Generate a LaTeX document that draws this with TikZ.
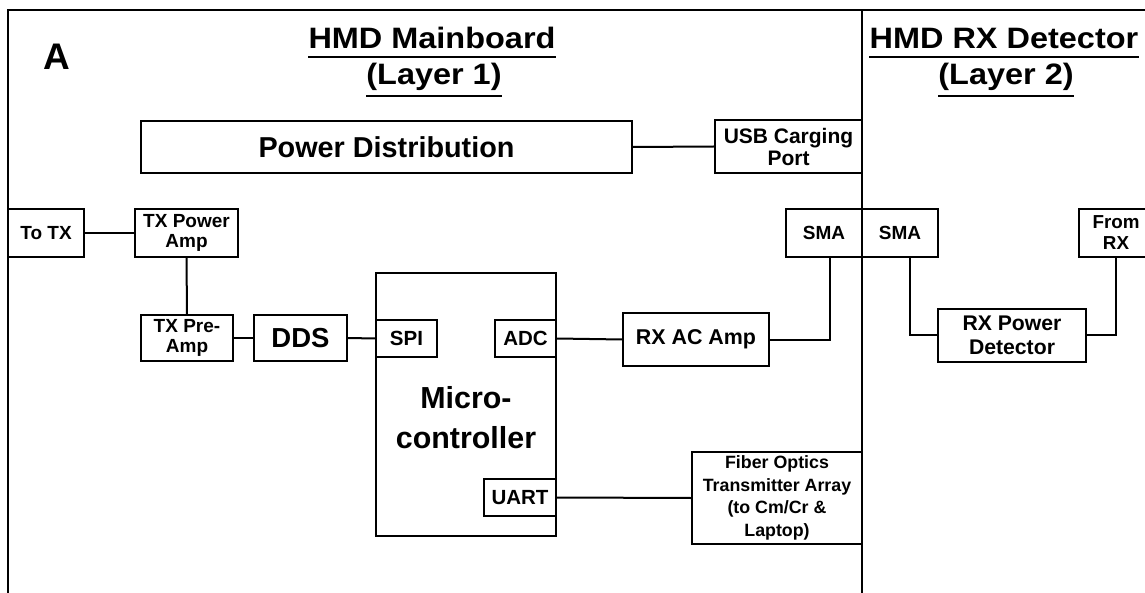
\documentclass[tikz,border=0pt]{standalone}
\usepackage{fontspec}
\setmainfont{Liberation Sans}
\begin{document}
\begin{tikzpicture}[x=1pt,y=-1pt,
  box/.style={draw,line width=1.8pt,inner sep=0pt,align=center},
  wire/.style={line width=2pt},
  frame/.style={line width=2.8pt},
  ttl/.style={inner sep=0pt,anchor=base,xscale=1.1,font=\fontsize{29.5}{30}\selectfont\bfseries},
  f19/.style={font=\fontsize{19}{20}\selectfont\bfseries},
  f20/.style={font=\fontsize{20.5}{22}\selectfont\bfseries},
  f18/.style={font=\fontsize{17.8}{22.5}\selectfont\bfseries}]
\useasboundingbox[fill=white] (0,0) rectangle (1145,593);
% frame
\coordinate (ftl) at (8,10);
\coordinate (ftr) at (1145,10);
\coordinate (fbl) at (8,593);
\coordinate (dtop) at (862,10);
\coordinate (dbot) at (862,593);
\draw[frame] (fbl) -- (ftl) -- (ftr);
\draw[line width=2.4pt] (dtop) -- (dbot);
% labels
\node[inner sep=0pt,font=\fontsize{37}{37}\selectfont\bfseries] (lblA) at (56.5,56.5) {A};
\node[ttl] (t1) at (432,49) {HMD Mainboard};
\node[ttl] (t2) at (434,85) {(Layer 1)};
\node[ttl] (t3) at (1004,49) {HMD RX Detector};
\node[ttl] (t4) at (1006,85) {(Layer 2)};
\foreach \t/\d in {t1/8,t2/11,t3/8,t4/11}
  \draw[line width=2pt] ([yshift=-\d pt]\t.base west) -- ([yshift=-\d pt]\t.base east);
% boxes
\node[box,font=\fontsize{28.8}{30}\selectfont\bfseries,minimum width=491pt,minimum height=52pt] (pd) at (386.5,147) {Power Distribution};
\node[box,font=\fontsize{21}{22}\selectfont\bfseries,minimum width=147pt,minimum height=53pt] (usb) at (788.5,146.5) {USB Carging\\Port};
\node[box,f19,minimum width=76pt,minimum height=48pt] (totx) at (46,233) {To TX};
\node[box,f19,minimum width=103pt,minimum height=48pt] (txpa) at (186.5,233) {TX Power\\Amp};
\node[box,f19,minimum width=92pt,minimum height=46pt] (txpre) at (187,338) {TX Pre-\\Amp};
\node[box,font=\fontsize{27.5}{28}\selectfont\bfseries,minimum width=93pt,minimum height=46pt] (dds) at (300.5,338) {DDS};
\node[box,minimum width=180pt,minimum height=263pt] (mcu) at (466,404.5) {};
\node[inner sep=0pt,align=center,font=\fontsize{30.4}{40}\selectfont\bfseries] (mcutxt) at (466,418) {Micro-\\controller};
\node[box,f20,minimum width=61pt,minimum height=37pt] (spi) at (406.5,338.5) {SPI};
\node[box,f20,minimum width=61pt,minimum height=37pt] (adc) at (525.5,338.5) {ADC};
\node[box,f20,minimum width=72pt,minimum height=37pt] (uart) at (520,497.5) {UART};
\node[box,font=\fontsize{21.4}{22}\selectfont\bfseries,minimum width=146pt,minimum height=53pt] (rxac) at (696,339.5) {RX AC Amp};
\node[box,f19,minimum width=76pt,minimum height=48pt] (sma1) at (824,233) {SMA};
\node[box,f19,minimum width=76pt,minimum height=48pt] (sma2) at (900,233) {SMA};
\node[box,font=\fontsize{18.8}{21}\selectfont\bfseries,minimum width=74pt,minimum height=48pt] (fromrx) at (1116,233) {From\\RX};
\node[box,font=\fontsize{21.2}{24}\selectfont\bfseries,minimum width=148pt,minimum height=53pt] (rxpd) at (1012,335.5) {RX Power\\Detector};
\node[box,f18,minimum width=170pt,minimum height=92pt] (fiber) at (777,498) {Fiber Optics\\Transmitter Array\\(to Cm/Cr \&\\Laptop)};
% connectors
\draw[wire] (pd.east) -- (usb.west);
\draw[wire] (totx.east) -- (txpa.west);
\draw[wire] (txpa.south) -- (txpre.north);
\draw[wire] (txpre.east) -- (dds.west);
\draw[wire] (dds.east) -- (spi.west);
\draw[wire] (adc.east) -- (rxac.west);
\draw[wire] (rxac.east) -| ([xshift=6pt]sma1.south);
\draw[wire] ([xshift=10pt]sma2.south) |- (rxpd.west);
\draw[wire] (fromrx.south) |- (rxpd.east);
\draw[wire] (uart.east) -- (fiber.west);
\end{tikzpicture}
\end{document}
